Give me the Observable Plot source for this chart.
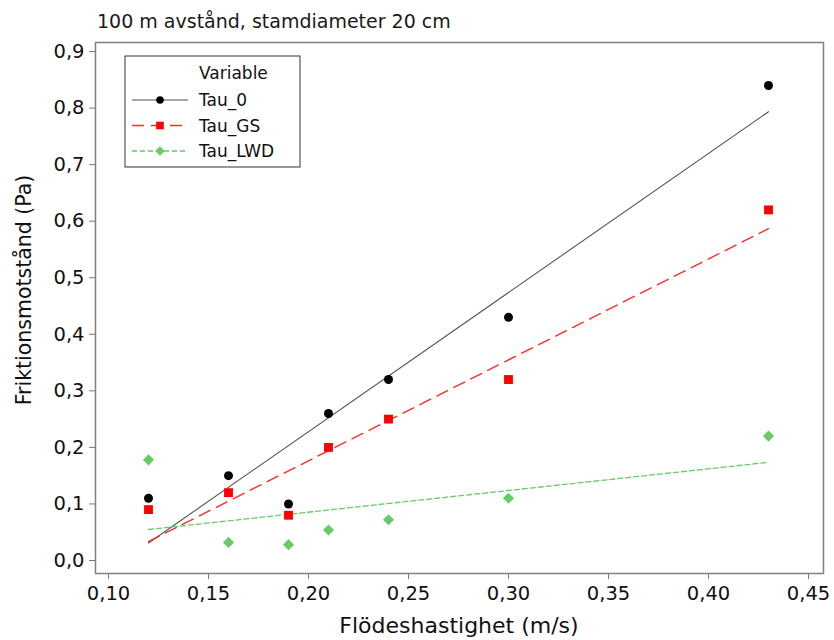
<!DOCTYPE html>
<html>
<head>
<meta charset="utf-8">
<script src="https://cdn.jsdelivr.net/npm/d3@7"></script>
<script src="https://cdn.jsdelivr.net/npm/@observablehq/plot@0.6"></script>
<style>
  body { margin: 0; background: #fff; font-family: "DejaVu Sans", sans-serif; }
  #title { height: 34px; box-sizing: border-box; padding-left: 97px; padding-top: 11px; font-size: 19px; color: #1a1a1a; line-height: 20px; }
</style>
</head>
<body>
<div id="title">100 m avstånd, stamdiameter 20 cm</div>
<div id="chart"></div>
<script>
const velocity = [0.12, 0.16, 0.19, 0.21, 0.24, 0.30, 0.43];
const tau0   = [0.11, 0.15, 0.10, 0.26, 0.32, 0.43, 0.84];
const tauGS  = [0.09, 0.12, 0.08, 0.20, 0.25, 0.32, 0.62];
const tauLWD = [0.178, 0.032, 0.028, 0.054, 0.072, 0.11, 0.22];
const seriesNames = ["Tau_0", "Tau_GS", "Tau_LWD"];
const xTicks = [0.10, 0.15, 0.20, 0.25, 0.30, 0.35, 0.40, 0.45];
const yTicks = [0.0, 0.1, 0.2, 0.3, 0.4, 0.5, 0.6, 0.7, 0.8, 0.9];

const style = {
  "Tau_0":   {dot: "#000000", line: "#555555", dash: null,   symbol: "circle",   r: 4.5, width: 1.1},
  "Tau_GS":  {dot: "#ff0000", line: "#ff2a2a", dash: "12,7", symbol: "square",   r: 5,   width: 1.4},
  "Tau_LWD": {dot: "#66cc66", line: "#66cc66", dash: "5,3",  symbol: "diamond2", r: 5,   width: 1.3}
};
const valuesBy = {"Tau_0": tau0, "Tau_GS": tauGS, "Tau_LWD": tauLWD};

const data = seriesNames.flatMap(s => velocity.map((v, i) => ({series: s, x: v, y: valuesBy[s][i]})));
const comma = (f) => (d) => d3.format(f)(d).replace(".", ",");
const font = "DejaVu Sans, sans-serif";

const marks = [];
for (const s of seriesNames) {
  const st = style[s];
  const rows = data.filter(d => d.series === s);
  marks.push(Plot.linearRegressionY(rows, {x: "x", y: "y", stroke: st.line, strokeWidth: st.width, strokeDasharray: st.dash, ci: 0}));
}
for (const s of seriesNames) {
  const st = style[s];
  const rows = data.filter(d => d.series === s);
  marks.push(Plot.dot(rows, {x: "x", y: "y", fill: st.dot, symbol: () => st.symbol, r: st.r, stroke: "none"}));
}

const chart = Plot.plot({
  width: 834,
  height: 606,
  marginLeft: 95,
  marginRight: 11,
  marginTop: 8,
  marginBottom: 67,
  style: {fontFamily: font, background: "#fff"},
  x: {domain: [0.0935, 0.4575], ticks: xTicks, tickFormat: comma(".2f")},
  y: {domain: [-0.023, 0.916], ticks: yTicks, tickFormat: comma(".1f")},
  symbol: {type: "identity"},
  marks: [
    Plot.axisX({ticks: xTicks, tickFormat: comma(".2f"), tickSize: 6, tickPadding: 7, fontSize: 19.5, stroke: "#777", fill: "#111", label: null}),
    Plot.axisY({ticks: yTicks, tickFormat: comma(".1f"), tickSize: 6, tickPadding: 5, fontSize: 19.5, stroke: "#777", fill: "#111", label: null}),
    ...marks,
    Plot.frame({stroke: "#808080", strokeWidth: 1.5})
  ]
});
document.getElementById("chart").appendChild(chart);

const svg = d3.select(chart);
// axis titles
svg.append("text").attr("x", (95 + 823) / 2).attr("y", 599)
  .attr("text-anchor", "middle").attr("font-family", font).attr("font-size", 22).attr("fill", "#111")
  .text("Flödeshastighet (m/s)");
svg.append("text").attr("transform", `translate(31, 256) rotate(-90)`)
  .attr("text-anchor", "middle").attr("font-family", font).attr("font-size", 20.5).attr("fill", "#111")
  .text("Friktionsmotstånd (Pa)");

// legend
const lg = svg.append("g").attr("font-family", font).attr("font-size", 17).attr("fill", "#111").attr("text-anchor", "start");
lg.append("rect").attr("x", 125).attr("y", 22).attr("width", 175).attr("height", 111)
  .attr("fill", "#fff").attr("stroke", "#333").attr("stroke-width", 1);
lg.append("text").attr("x", 199).attr("y", 45).attr("text-anchor", "start").text("Variable");
seriesNames.forEach((s, i) => {
  const st = style[s];
  const y = 66 + i * 25.5;
  lg.append("line").attr("x1", 132).attr("x2", 188).attr("y1", y).attr("y2", y)
    .attr("stroke", st.line).attr("stroke-width", st.width).attr("stroke-dasharray", st.dash);
  const sym = {circle: d3.symbolCircle, square: d3.symbolSquare, diamond2: d3.symbolDiamond2}[st.symbol];
  lg.append("path").attr("transform", `translate(160, ${y})`)
    .attr("d", d3.symbol(sym, Math.PI * (st.r - 0.7) ** 2)()).attr("fill", st.dot);
  lg.append("text").attr("x", 199).attr("y", y + 6).attr("text-anchor", "start").text(s);
});
</script>
</body>
</html>
